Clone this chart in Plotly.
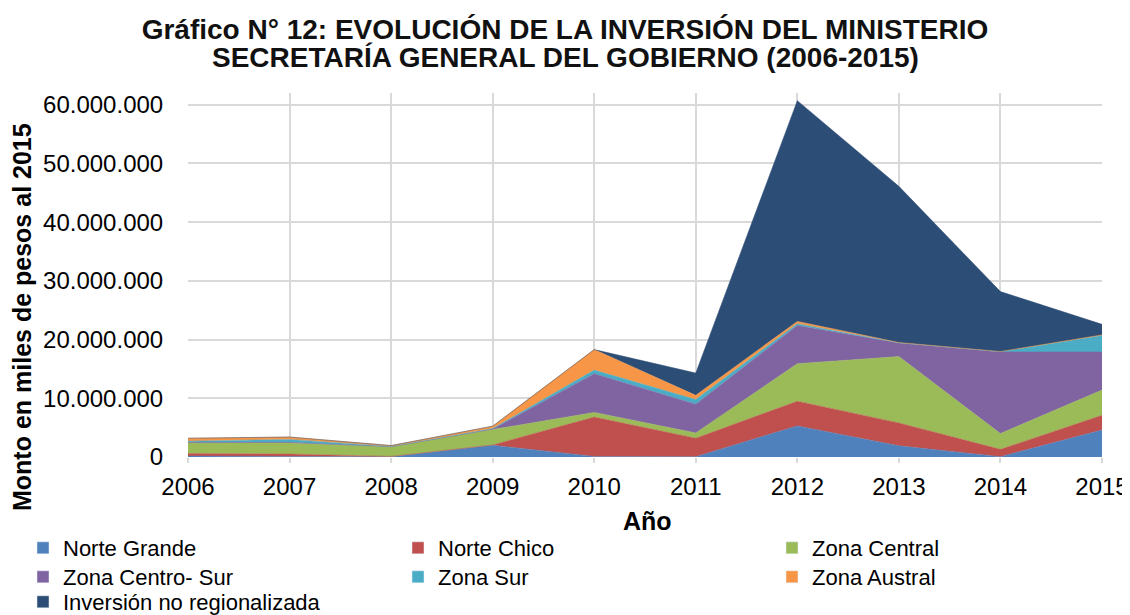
import plotly.graph_objects as go

# -----------------------------
# DATA (miles de pesos de 2015)
# -----------------------------
years = [2006, 2007, 2008, 2009, 2010, 2011, 2012, 2013, 2014, 2015]

norte_grande = [150000, 100000, 50000, 2000000, 100000, 50000, 5300000, 1900000, 50000, 4600000]
norte_chico = [450000, 400000, 50000, 50000, 6700000, 3150000, 4200000, 3900000, 1250000, 2500000]
zona_central = [1800000, 1900000, 1650000, 2600000, 800000, 900000, 6400000, 11300000, 2700000, 4300000]
zona_centro_sur = [100000, 100000, 0, 100000, 6600000, 4900000, 6500000, 2300000, 13900000, 6500000]
zona_sur = [200000, 500000, 50000, 100000, 600000, 800000, 300000, 50000, 50000, 2800000]
zona_austral = [500000, 400000, 150000, 400000, 3500000, 700000, 400000, 50000, 20000, 100000]
no_regionalizada = [0, 0, 0, 0, 0, 3800000, 37600000, 26600000, 10200000, 1800000]

series_names = ["Norte Grande", "Norte Chico", "Zona Central", "Zona Centro- Sur",
                "Zona Sur", "Zona Austral", "Inversión no regionalizada"]
series_values = [norte_grande, norte_chico, zona_central, zona_centro_sur,
                 zona_sur, zona_austral, no_regionalizada]
colors = ["#4F81BD", "#C0504D", "#9BBB59", "#8064A2", "#4BACC6", "#F79646", "#2C4D75"]

FONT = "Liberation Sans, Arial, sans-serif"

# the page body has an 8px margin, so the figure is a bit smaller
OFF = 8
W, H = 1130 - OFF, 615 - OFF
L, R, T, B = 180, 28, 85, 158
PW, PH = W - L - R, H - T - B


def fx(x):
    # page pixel -> paper x
    return (x - OFF - L) / PW


def fy(y):
    # page pixel -> paper y
    return (H - B - (y - OFF)) / PH


fig = go.Figure()

# stacked areas
for name, vals, col in zip(series_names, series_values, colors):
    fig.add_trace(
        go.Scatter(
            x=years,
            y=vals,
            name=name,
            mode="lines",
            stackgroup="one",
            line=dict(width=0.5, color=col),
            fillcolor=col,
            showlegend=False,
        )
    )

# square legend symbols: 3 columns, one small legend per entry
col_x = [23, 398, 772]
row_y = [527, 556, 581]
legends = {}
for i, (name, col) in enumerate(zip(series_names, colors)):
    key = "legend" if i == 0 else "legend%d" % (i + 1)
    fig.add_trace(
        go.Bar(x=[None], y=[None], name=name, marker=dict(color=col),
               showlegend=True, legend=key)
    )
    legends[key] = dict(
        orientation="v", xanchor="left", yanchor="top",
        x=fx(col_x[i % 3]), y=fy(row_y[i // 3]),
        font=dict(size=22), itemwidth=30, bgcolor="rgba(0,0,0,0)",
    )

fig.update_layout(
    width=W,
    height=H,
    paper_bgcolor="white",
    plot_bgcolor="white",
    separators=",.",
    font=dict(family=FONT, size=24, color="black"),
    margin=dict(l=L, r=R, t=T, b=B, autoexpand=False),
    title=dict(
        text="<b>Gráfico N° 12: EVOLUCIÓN DE LA INVERSIÓN DEL MINISTERIO</b>",
        x=(565 - OFF) / W,
        xref="container",
        xanchor="center",
        y=1 - 21 / H,
        yref="container",
        yanchor="middle",
        font=dict(family=FONT, size=28, color="#111111"),
    ),
    xaxis=dict(
        range=[2006, 2015],
        tickmode="array",
        tickvals=years,
        ticktext=[str(y) for y in years],
        showgrid=True,
        gridcolor="#D9D9D9",
        gridwidth=1.5,
        ticks="outside",
        ticklen=5,
        tickwidth=1.5,
        tickcolor="#D9D9D9",
        ticklabelstandoff=3,
        showline=False,
        zeroline=False,
        tickfont=dict(size=24),
    ),
    yaxis=dict(
        range=[0, 62000000],
        dtick=10000000,
        tickformat=",d",
        showgrid=True,
        gridcolor="#D9D9D9",
        gridwidth=1.5,
        ticks="outside",
        ticklen=19,
        tickcolor="rgba(0,0,0,0)",
        showline=False,
        zeroline=False,
        tickfont=dict(size=24),
    ),
    annotations=[
        dict(
            text="<b>SECRETARÍA GENERAL DEL GOBIERNO (2006-2015)</b>",
            x=fx(565), xref="paper", xanchor="center",
            y=fy(58), yref="paper", yanchor="middle",
            showarrow=False,
            font=dict(size=28, color="#111111"),
        ),
        dict(
            text="<b>Monto en miles de pesos al 2015</b>",
            textangle=-90,
            x=fx(22), xref="paper", xanchor="center",
            y=fy(317), yref="paper", yanchor="middle",
            showarrow=False,
            font=dict(size=25),
        ),
        dict(
            text="<b>Año</b>",
            x=fx(647), xref="paper", xanchor="center",
            y=fy(521), yref="paper", yanchor="middle",
            showarrow=False,
            font=dict(size=25),
        ),
    ],
)
fig.update_layout(**legends)

fig.write_html("out.html")
